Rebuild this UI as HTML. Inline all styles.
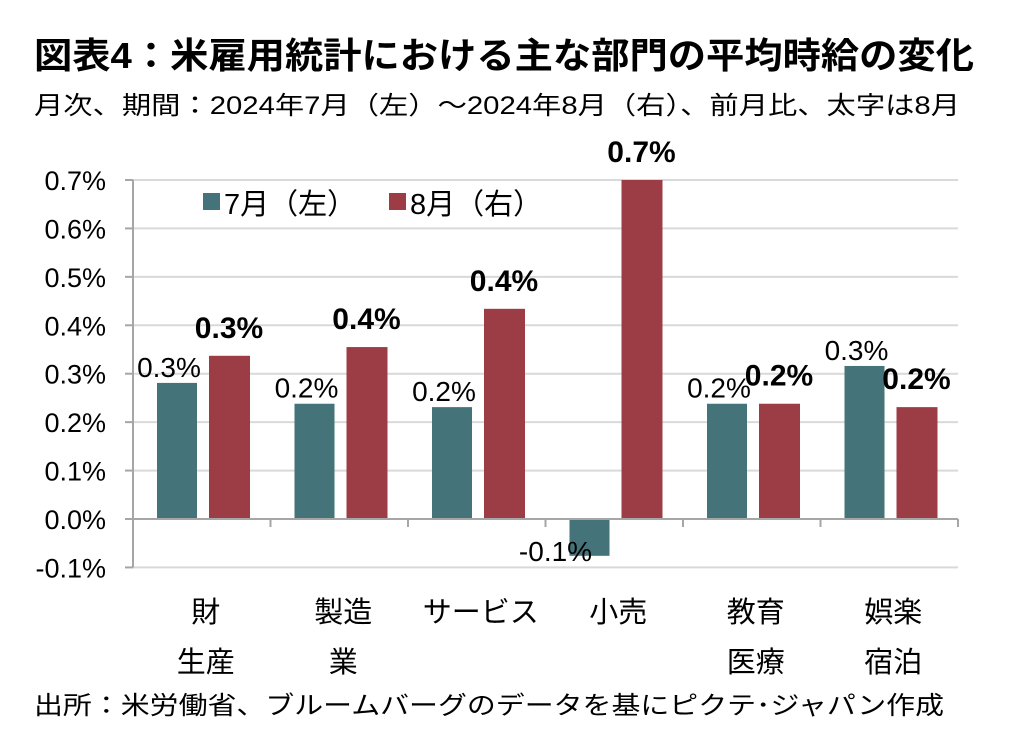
<!DOCTYPE html>
<html><head><meta charset="utf-8"><style>
body{margin:0;background:#fff;width:1012px;height:732px;overflow:hidden;font-family:"Liberation Sans","Noto Sans CJK JP",sans-serif}
svg text{font-family:"Liberation Sans","Noto Sans CJK JP",sans-serif}
</style></head><body>
<svg width="1012" height="732">
<text x="34" y="68" font-size="36" font-weight="bold" fill="#000" textLength="940" lengthAdjust="spacingAndGlyphs">図表4：米雇用統計における主な部門の平均時給の変化</text>
<text x="34" y="114" font-size="25" fill="#000" textLength="926" lengthAdjust="spacingAndGlyphs">月次、期間：2024年7月（左）～2024年8月（右）、前月比、太字は8月</text>
<g id="grid"></g><g id="bars"></g><g id="axes"></g>
<g>
<rect x="203" y="193" width="17" height="17" fill="#45737a"/>
<text x="224" y="214" font-size="29">7月（左）</text>
<rect x="389" y="193" width="17" height="17" fill="#9c3d46"/>
<text x="410" y="214" font-size="29">8月（右）</text>
</g>
<text x="34" y="714" font-size="25" textLength="910" lengthAdjust="spacingAndGlyphs">出所：米労働省、ブルームバーグのデータを基にピクテ･ジャパン作成</text>
</svg>
<script>
const categories=[["財","生産"],["製造","業"],["サービス",""],["小売",""],["教育","医療"],["娯楽","宿泊"]];
const julValues=[0.281,0.238,0.231,-0.076,0.238,0.316];
const augValues=[0.337,0.355,0.434,0.700,0.238,0.231];
const julLabels=["0.3%","0.2%","0.2%","-0.1%","0.2%","0.3%"];
const augLabels=["0.3%","0.4%","0.4%","0.7%","0.2%","0.2%"];
const yTicks=[-0.1,0,0.1,0.2,0.3,0.4,0.5,0.6,0.7];
const NS="http://www.w3.org/2000/svg";
const x0=133,x1=958,gw=137.5;
const y=v=>519-v*484.3;
function mk(t,a,p){const e=document.createElementNS(NS,t);for(const k in a)e.setAttribute(k,a[k]);document.getElementById(p).appendChild(e);return e;}
yTicks.forEach(t=>{
 if(t!==0){const g=mk('line',{x1:x0,x2:x1,y1:y(t),y2:y(t),stroke:'#d9d9d9','stroke-width':2},'grid');
 
 }
 const tk=mk('line',{x1:x0-8,x2:x0,y1:y(t),y2:y(t),stroke:'#a6a6a6','stroke-width':2},'axes');
 
 
 const tl=mk('text',{x:106,y:y(t)+10,'text-anchor':'end','font-size':27},'axes');
 tl.textContent=t.toFixed(1)+'%';
 
 
});
const ya=mk('line',{x1:x0,x2:x0,y1:y(0.7),y2:y(-0.1),stroke:'#a6a6a6','stroke-width':2},'axes');


const xa=mk('line',{x1:x0,x2:x1,y1:y(0),y2:y(0),stroke:'#a6a6a6','stroke-width':2},'axes');


categories.forEach((c,i)=>{
 const gx=x0+i*gw;
 const xt=mk('line',{x1:gx+gw,x2:gx+gw,y1:y(0),y2:y(0)+8,stroke:'#a6a6a6','stroke-width':2},'axes');
 
 
 const jv=julValues[i],av=augValues[i];
 const jb=mk('rect',{x:gx+24,y:Math.min(y(jv),y(0)),width:40,height:Math.abs(y(jv)-y(0)),fill:'#45737a'},'bars');
 
 
 const ab=mk('rect',{x:gx+76,y:Math.min(y(av),y(0)),width:41,height:Math.abs(y(av)-y(0)),fill:'#9c3d46'},'bars');
 
 
 let jx,jy;
 if(jv<0){jx=gx+10;jy=y(0)+42;}else{jx=gx+36;jy=y(jv)-6;}
 const jl=mk('text',{x:jx,y:jy,'text-anchor':'middle','font-size':28},'bars');
 jl.textContent=julLabels[i];
 
 
 const al=mk('text',{x:gx+96,y:y(av)-18,'text-anchor':'middle','font-size':30,'font-weight':'bold'},'bars');
 al.textContent=augLabels[i];
 
 
 c.forEach((s,k)=>{if(!s)return;
  const cl=mk('text',{x:gx+gw/2+4,y:622+k*50,'text-anchor':'middle','font-size':29},'axes');
  cl.textContent=s;
  
  });
});
</script>
</body></html>
